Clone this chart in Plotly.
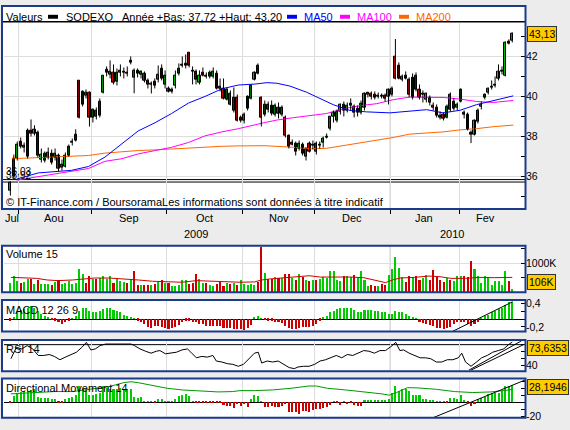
import plotly.graph_objects as go

# ---------------- data ----------------
opens = [35.30,35.98,36.90,37.72,37.45,36.97,38.31,38.12,38.20,36.85,
36.80,36.95,37.15,36.95,37.05,36.45,36.50,37.05,37.70,37.80,
40.77,39.60,40.05,40.20,38.94,39.30,39.02,40.20,41.36,41.10,
41.20,40.75,41.30,41.25,41.20,41.70,40.95,41.30,41.10,41.15,
40.80,40.60,40.75,40.85,41.40,40.60,40.40,40.35,40.55,41.15,
41.60,41.55,42.20,41.30,41.25,40.70,41.20,41.05,41.00,41.00,
41.15,40.50,40.40,39.85,40.16,39.30,39.95,38.95,38.80,39.40,
39.90,40.85,41.55,39.92,39.10,39.60,39.55,39.10,39.45,39.10,
38.93,38.03,37.70,37.62,37.40,37.60,36.97,37.65,37.55,37.65,
37.55,37.70,37.95,38.40,38.98,38.80,39.25,39.60,39.30,39.55,
39.50,39.40,39.20,39.43,40.10,40.16,40.10,40.00,40.00,40.05,
39.97,40.10,42.00,41.56,40.85,41.05,40.82,39.92,41.06,40.35,
40.10,39.85,39.70,39.55,39.43,39.05,39.10,38.95,40.08,39.75,
39.45,39.75,39.20,39.10,38.20,38.10,38.72,39.50,39.95,40.20,
40.45,40.55,40.90,41.25,41.06,42.75,42.78]
highs = [35.75,37.10,37.75,37.95,37.70,38.40,38.85,38.56,38.30,37.40,
37.25,37.45,37.35,37.40,37.15,36.85,37.20,37.60,37.90,38.36,
40.80,40.30,40.35,40.25,39.40,39.45,39.90,41.05,41.50,41.80,
41.60,41.40,41.60,41.45,41.50,42.00,41.40,41.40,41.30,41.25,
40.90,40.75,40.90,41.55,41.60,41.30,40.50,40.45,41.30,41.65,
42.00,42.10,42.20,41.50,41.35,41.30,41.45,41.20,41.30,41.45,
41.30,40.90,40.90,40.45,40.30,40.45,40.10,39.05,39.20,40.05,
40.60,41.25,41.65,40.00,39.80,39.75,39.80,39.65,39.70,39.55,
39.05,38.10,37.85,37.75,37.80,37.70,37.45,37.75,37.80,37.75,
37.75,38.00,38.15,39.00,39.30,39.35,39.65,39.75,39.70,39.90,
39.60,39.55,39.80,40.20,40.22,40.25,40.25,40.20,40.15,40.15,
40.40,40.50,42.87,41.70,41.10,41.25,40.95,41.15,41.20,40.60,
40.30,40.20,40.05,39.70,39.60,39.25,39.20,39.60,40.20,39.90,
39.70,40.40,39.30,39.20,38.30,38.85,39.40,39.75,40.15,40.45,
40.80,41.00,41.60,41.50,42.75,42.85,43.20]
lows = [35.05,35.90,36.80,37.40,37.20,36.90,38.00,38.05,36.95,36.70,
36.70,36.85,36.60,36.80,36.25,36.30,36.45,37.00,37.55,37.75,
38.90,39.50,39.90,38.50,38.70,38.85,38.95,40.15,41.00,40.90,
40.60,40.55,41.00,40.90,41.00,41.60,40.16,40.95,40.90,40.70,
40.40,40.15,40.40,40.70,40.80,40.40,40.20,40.15,40.40,41.05,
41.45,41.40,41.45,40.60,40.60,40.60,41.00,40.90,40.90,40.90,
40.35,40.25,39.85,39.80,39.55,39.20,38.75,38.70,38.65,39.30,
39.85,40.80,41.10,38.50,39.00,39.20,39.05,39.00,38.90,39.00,
37.95,37.40,37.55,37.05,37.30,37.05,36.80,37.20,37.35,37.10,
37.40,37.45,37.90,38.30,38.70,38.70,39.10,39.00,39.20,39.30,
38.95,39.00,39.10,39.30,39.95,39.85,39.85,39.90,39.90,39.75,
39.60,40.00,40.85,40.85,40.75,40.85,39.95,39.85,40.25,39.85,
39.70,39.70,39.55,39.30,38.95,38.85,38.80,38.90,39.25,39.30,
39.30,39.70,38.90,38.30,37.67,38.05,38.65,39.35,39.85,40.10,
40.35,40.45,40.80,41.10,41.00,42.60,42.70]
closes = [35.70,36.90,37.60,37.50,37.55,38.28,38.15,38.36,37.05,37.10,
37.15,37.20,36.70,37.15,36.40,36.60,37.05,37.50,37.75,38.10,
38.94,40.25,40.20,38.94,39.34,38.98,39.75,41.03,41.20,41.25,
40.70,41.20,41.20,41.20,41.15,41.80,41.30,41.15,41.25,40.80,
40.57,40.62,40.55,41.10,40.90,41.05,40.25,40.25,41.05,41.40,
41.55,41.65,41.52,41.25,40.85,41.05,41.05,41.00,41.20,41.26,
40.41,40.40,39.90,40.35,39.60,39.95,38.80,38.80,39.10,40.00,
40.55,41.20,41.15,38.95,39.60,39.35,39.15,39.55,39.15,39.45,
38.03,37.50,37.60,37.25,37.65,37.15,37.40,37.25,37.60,37.25,
37.60,37.90,38.00,38.98,39.20,39.25,39.60,39.30,39.55,39.65,
39.20,39.20,39.65,40.16,40.18,40.00,39.95,40.05,40.02,39.88,
40.36,40.40,40.90,40.90,41.00,40.90,40.08,40.95,40.33,39.95,
40.15,40.15,39.95,39.45,39.02,38.95,38.90,39.50,39.34,39.40,
39.60,40.33,39.10,38.36,38.10,38.77,39.31,39.60,40.10,40.41,
40.50,40.60,41.23,41.25,42.70,42.65,43.13]

# moving averages (x = trading-day index)
ma50_x = [1.8,8.1,17.8,22.7,27.5,32.4,37.2,42.1,46.9,51.8,56.6,61.5,66.3,71.2,74.6,77.5,81.3,86.2,91.0,93.9,98.8,103.6,110.4,116.2,121.1,125.9,130.8,135.6,140.5,146.3]
ma50_y = [35.87,36.18,36.31,36.50,36.97,37.62,38.28,38.69,39.15,39.67,40.00,40.38,40.57,40.62,40.69,40.66,40.52,40.21,39.84,39.59,39.30,39.23,39.18,39.26,39.34,39.18,39.31,39.59,39.80,40.03]
ma100_x = [1.8,8.1,12.9,17.8,22.7,27.5,32.4,37.2,42.1,46.9,51.8,56.6,61.5,66.3,74.1,77.5,82.3,87.2,92.0,96.8,101.7,106.6,111.4,116.2,121.1,125.9,130.8,135.6,140.5,146.3]
ma100_y = [35.82,35.99,36.10,36.27,36.40,36.76,36.89,37.13,37.30,37.46,37.70,38.03,38.23,38.39,38.70,38.82,38.94,39.05,39.15,39.38,39.54,39.64,39.84,39.97,39.97,39.95,39.87,39.75,39.70,39.80]
ma200_x = [0.4,8.1,17.8,22.7,27.5,32.4,37.2,42.1,46.9,51.8,56.6,61.5,66.3,74.1,82.3,87.2,92.0,96.8,101.7,106.6,111.4,116.2,121.1,125.9,130.8,135.6,140.5,146.3]
ma200_y = [36.89,36.94,37.00,37.05,37.17,37.25,37.30,37.33,37.38,37.43,37.46,37.51,37.53,37.54,37.46,37.38,37.41,37.54,37.67,37.79,37.95,38.12,38.17,38.23,38.33,38.39,38.49,38.57]

# volume in thousands
volume_k = [330,568,386,330,341,466,466,273,409,295,
273,295,261,352,409,295,318,386,273,318,
807,636,330,545,455,455,489,568,455,557,
330,455,386,352,330,432,739,261,250,250,
250,250,295,341,420,307,307,216,227,250,
432,432,295,318,636,455,307,307,261,216,
280,352,205,307,295,318,261,409,273,261,
273,261,352,1557,670,443,455,523,489,477,
636,636,477,432,636,523,409,386,432,409,
455,534,477,716,727,409,386,545,545,511,
580,477,727,432,205,239,205,205,273,239,
580,807,1227,841,523,364,545,523,545,432,
477,602,409,773,523,432,352,500,409,375,
545,545,545,534,1068,818,545,330,545,500,
250,386,375,239,750,375,106]
vol_ma_x = [0.15,3.3,7.6,10.7,13.9,18.1,21.3,24.5,28.7,32.9,37.2,41.4,45.6,49.9,54.1,58.3,62.6,66.8,71.0,73.1,75.3,79.5,83.7,86.9,90.1,94.3,98.5,102.8,107.0,109.1,111.2,113.3,117.6,121.8,125.0,128.1,132.4,136.6,140.8,146.0]
vol_ma_k = [500,489,466,409,386,409,432,477,477,455,409,364,341,330,386,364,352,330,341,409,443,489,545,557,511,523,511,489,386,318,409,477,500,545,523,466,466,500,489,500]

macd_hist = [-0.05,0.05,0.17,0.23,0.25,0.29,0.33,0.29,0.21,0.13,
0.07,0.03,-0.03,-0.05,-0.08,-0.12,-0.08,-0.05,0.005,0.07,
0.21,0.27,0.29,0.21,0.18,0.17,0.21,0.25,0.29,0.27,
0.23,0.21,0.17,0.10,0.08,0.05,0.02,-0.05,-0.08,-0.13,
-0.21,-0.22,-0.18,-0.18,-0.21,-0.23,-0.25,-0.23,-0.21,-0.15,
-0.08,-0.04,-0.05,-0.07,-0.08,-0.12,-0.13,-0.17,-0.17,-0.18,
-0.18,-0.18,-0.22,-0.23,-0.22,-0.25,-0.25,-0.25,-0.27,-0.23,
-0.15,0.03,0.08,0.005,-0.03,-0.04,-0.05,-0.08,-0.07,-0.10,
-0.17,-0.23,-0.25,-0.25,-0.23,-0.21,-0.21,-0.20,-0.18,-0.12,
-0.04,0.05,0.08,0.17,0.21,0.25,0.29,0.28,0.27,0.27,
0.22,0.18,0.18,0.22,0.23,0.22,0.21,0.20,0.18,0.17,
0.13,0.13,0.21,0.19,0.18,0.13,0.07,0.03,0.005,-0.07,
-0.10,-0.12,-0.15,-0.18,-0.22,-0.23,-0.25,-0.22,-0.20,-0.13,
-0.08,-0.07,-0.08,-0.12,-0.17,-0.13,-0.08,0.02,0.07,0.10,
0.17,0.21,0.25,0.29,0.35,0.42,0.43]
macd_trend_x = [128.7, 146.1]
macd_trend_y = [-0.31, 0.44]

rsi_x = [0.15,1.74,3.3,4.9,6.5,8.1,9.7,11.3,12.8,14.4,16.0,17.6,19.2,20.8,22.1,23.4,24.7,26.1,27.7,29.8,31.9,33.5,35.1,36.1,37.7,39.3,40.9,42.5,43.5,45.1,46.7,48.3,49.9,51.5,52.5,54.1,55.7,57.3,58.9,59.9,61.5,63.1,64.7,66.3,67.8,69.4,71.0,72.1,73.1,74.7,76.3,77.9,79.5,81.1,82.6,83.7,85.3,86.9,88.5,90.1,91.7,93.2,94.8,96.4,98.0,99.6,101.2,102.8,104.3,105.9,107.5,109.1,110.7,112.1,113.3,114.4,116.0,117.6,119.2,120.8,122.3,123.9,125.5,127.1,128.7,130.3,131.3,132.4,134.0,135.6,137.1,138.7,140.3,141.9,143.5,145.1,146.0]
rsi_y = [49.5,66.1,63.8,68.6,63.8,54.3,54.3,55.7,52.9,48.1,51.9,55.7,59.0,66.1,73.3,62.3,63.8,68.6,70.9,70.9,70.9,70.9,70.9,68.6,63.8,60.5,57.6,60.5,61.4,56.7,57.6,59.0,62.3,63.8,59.0,50.9,52.9,51.9,54.3,46.2,44.8,42.4,41.4,38.6,41.4,49.5,57.6,59.0,43.3,46.2,44.8,46.2,41.4,36.7,35.2,37.6,38.6,38.6,41.4,46.2,48.1,50.9,54.3,50.9,55.7,54.3,57.6,61.4,60.5,57.6,61.4,61.4,67.1,73.3,61.4,62.3,57.6,54.3,50.9,50.9,49.5,44.8,44.8,48.1,48.1,50.9,57.6,44.8,38.6,44.8,50.9,54.3,59.0,61.4,63.8,70.9,73.6353]
rsi_level = 70
rsi_trend1_x = [133.4, 148.6]
rsi_trend1_y = [33.0, 75.3]
rsi_trend2_x = [134.0, 149.3]
rsi_trend2_y = [33.0, 70.0]

dm_hist = [-1.9,8.6,12.4,14.3,15.2,15.7,17.1,18.1,7.6,5.7,
5.7,5.7,4.8,3.8,-1.0,-1.0,3.8,5.7,7.6,10.5,
22.9,18.1,19.0,9.5,9.5,11.0,12.4,23.8,20.5,19.0,
18.1,19.0,20.5,19.0,18.1,19.0,6.7,5.7,7.6,1.0,
0.5,1.0,-1.0,3.8,3.8,1.0,1.0,1.0,4.8,8.6,
9.5,11.0,8.6,1.0,-1.9,-1.9,-1.0,-1.9,-1.0,-0.5,
-1.4,-1.9,-3.8,-5.7,-5.7,-9.0,-3.3,-5.7,-3.3,-8.1,
4.8,9.5,8.6,1.0,-8.1,-8.1,-5.7,-8.1,-6.7,-5.7,
-3.3,-14.3,-15.2,-15.2,-17.6,-13.3,-13.3,-14.3,-11.4,-10.5,
-10.5,-8.6,-6.7,-4.8,0.5,-1.9,-3.8,0.5,-3.3,-1.9,
-3.8,-5.7,-5.7,1.4,1.4,1.4,1.4,1.4,1.4,1.4,
3.8,12.4,22.9,15.7,19.0,18.1,15.7,9.5,9.5,9.5,
4.8,4.8,2.9,2.9,0.5,0.5,1.0,-1.9,6.2,6.2,
4.8,9.5,2.9,-1.9,-5.7,-3.3,3.8,6.2,7.6,11.0,
12.4,13.3,13.3,15.7,22.9,23.8,25.2]
dm_line_x = [0.15,7.6,12.8,18.1,23.4,28.7,32.9,35.1,37.2,39.3,42.5,45.6,49.9,55.2,60.4,64.7,66.8,71.0,76.3,81.6,86.9,89.0,92.2,97.5,102.8,108.0,110.2,112.3,115.5,118.6,123.9,129.2,134.5,139.8,145.1,146.0]
dm_line_y = [12.4,14.3,15.7,15.7,19.0,22.9,28.6,30.0,28.6,26.7,22.9,20.5,18.1,17.1,15.2,15.7,17.1,17.1,18.1,20.5,23.8,23.8,20.5,18.1,15.7,12.4,10.5,14.3,21.4,21.0,19.0,15.7,14.3,15.2,18.1,19.0]
dm_trend_x = [122.9, 149.7]
dm_trend_y = [-22.4, 32.4]
dm_last = "28,1946"

months = ["Jul", "Aou", "Sep", "Oct", "Nov", "Dec", "Jan", "Fev"]
month_label_x = [0.6, 12.7, 34.5, 56.6, 78.1, 99.4, 120.3, 138.1]
month_bounds = [2.5, 23.5, 45.5, 67.5, 88.5, 110.5, 130.5]
years = ["2009", "2010"]
year_label_x = [54.0, 128.5]
year_bound = 110.5

# ---------------- styling / layout ----------------
W, H = 570, 430
FONT = "Liberation Sans, Arial, sans-serif"
GREEN = "#00cc00"
RED = "#cc0000"
NAVY = "#1b3a8a"
GRID = "#dddddd"
YEARLINE = "#a0a0a0"
BG = "#ececec"


def fx(p):
    return p / W


def fy(p):
    return 1 - p / H


n = len(closes)
idx = list(range(n))
XR = [-1.86, 149.7]
XDOM = [fx(4), fx(525)]

fig = go.Figure()

# MAs first (drawn under the candles)
for xs, ys, col in [(ma200_x, ma200_y, "#ff6600"), (ma100_x, ma100_y, "#ff00ff"), (ma50_x, ma50_y, "#0000ff")]:
    fig.add_trace(go.Scatter(x=xs, y=ys, mode="lines", line=dict(color=col, width=1),
                             xaxis="x", yaxis="y", showlegend=False, hoverinfo="skip"))

# candle wicks
wick_x, wick_y = [], []
for i in idx:
    wick_x += [i, i, None]
    wick_y += [lows[i], highs[i], None]
fig.add_trace(go.Scatter(x=wick_x, y=wick_y, mode="lines", line=dict(color="black", width=1),
                         xaxis="x", yaxis="y", showlegend=False, hoverinfo="skip"))
# candle bodies
body_base = [min(o, c) for o, c in zip(opens, closes)]
body_h = [max(abs(c - o), 0.03) for o, c in zip(opens, closes)]
body_col = [GREEN if c >= o else RED for o, c in zip(opens, closes)]
fig.add_trace(go.Bar(x=idx, y=body_h, base=body_base, width=0.62,
                     marker=dict(color=body_col, line=dict(color="black", width=1)),
                     xaxis="x", yaxis="y", showlegend=False, hoverinfo="skip"))

vol_colors = [GREEN if (i == 0 or closes[i] >= closes[i - 1]) else RED for i in idx]
fig.add_trace(go.Bar(x=idx, y=volume_k, width=0.6, marker=dict(color=vol_colors, line=dict(width=0)),
                     xaxis="x2", yaxis="y2", showlegend=False, hoverinfo="skip"))
fig.add_trace(go.Scatter(x=vol_ma_x, y=vol_ma_k, mode="lines", line=dict(color=RED, width=1),
                         xaxis="x2", yaxis="y2", showlegend=False, hoverinfo="skip"))

fig.add_trace(go.Bar(x=idx, y=macd_hist, width=0.6,
                     marker=dict(color=[GREEN if v >= 0 else RED for v in macd_hist], line=dict(width=0)),
                     xaxis="x3", yaxis="y3", showlegend=False, hoverinfo="skip"))
fig.add_trace(go.Scatter(x=macd_trend_x, y=macd_trend_y, mode="lines", line=dict(color="black", width=1),
                         xaxis="x3", yaxis="y3", showlegend=False, hoverinfo="skip"))

fig.add_trace(go.Scatter(x=rsi_x, y=rsi_y, mode="lines", line=dict(color="black", width=1),
                         xaxis="x4", yaxis="y4", showlegend=False, hoverinfo="skip"))
for tx, ty in [(rsi_trend1_x, rsi_trend1_y), (rsi_trend2_x, rsi_trend2_y)]:
    fig.add_trace(go.Scatter(x=tx, y=ty, mode="lines", line=dict(color="black", width=1),
                             xaxis="x4", yaxis="y4", showlegend=False, hoverinfo="skip"))

fig.add_trace(go.Bar(x=idx, y=dm_hist, width=0.6,
                     marker=dict(color=[GREEN if v >= 0 else RED for v in dm_hist], line=dict(width=0)),
                     xaxis="x5", yaxis="y5", showlegend=False, hoverinfo="skip"))
fig.add_trace(go.Scatter(x=dm_line_x, y=dm_line_y, mode="lines", line=dict(color="#009900", width=1),
                         xaxis="x5", yaxis="y5", showlegend=False, hoverinfo="skip"))
fig.add_trace(go.Scatter(x=dm_trend_x, y=dm_trend_y, mode="lines", line=dict(color="black", width=1),
                         xaxis="x5", yaxis="y5", showlegend=False, hoverinfo="skip"))

# panels: (top, bottom) in px of plotting area and value range
P_MAIN = (20, 209, [34.398, 43.686])
P_VOL = (246.7, 294, [-17, 1603])
P_MACD = (302, 334, [-0.3175, 0.4825])
P_RSI = (342.7, 374.3, [31.43, 76.57])
P_DM = (381.7, 421.7, [-22.43, 34.71])

LABEL_SIZE = 10.5


def xax(anchor, ticks):
    return dict(domain=XDOM, range=XR, anchor=anchor, tickvals=month_bounds, ticks=ticks,
                ticklen=4, tickcolor="black", showticklabels=False, showgrid=True,
                gridcolor=GRID, gridwidth=1, zeroline=False, showline=False, fixedrange=True)


def yax(anchor, panel, tickvals, ticktext, minor_vals, grid=False, zeroline=False):
    top, bottom, rng = panel
    return dict(domain=[fy(bottom), fy(top)], range=rng, anchor=anchor, side="right",
                tickvals=tickvals, ticktext=ticktext, ticks="inside", ticklen=4,
                tickcolor="black", showgrid=grid, gridcolor=GRID, gridwidth=1,
                zeroline=zeroline, zerolinecolor="black", zerolinewidth=1, showline=False,
                minor=dict(tickvals=minor_vals, ticks="inside", ticklen=4, tickcolor="black", showgrid=False),
                tickfont=dict(size=LABEL_SIZE, color="black", family=FONT), fixedrange=True)


xa1 = xax("y", "outside")
xa1["rangeslider"] = dict(visible=False)

shapes = []
boxes = [(3, 209.5), (246.7, 294), (302, 334), (342.7, 374.3), (381.7, 421.7)]
for t, b in boxes:
    shapes.append(dict(type="rect", xref="paper", yref="paper", x0=fx(2), x1=fx(525.5), y0=fy(b), y1=fy(t),
                       fillcolor="white", line=dict(width=0), layer="below"))
# year boundary (darker gridline)
for xr, yr in [("x", "y"), ("x2", "y2"), ("x3", "y3"), ("x4", "y4"), ("x5", "y5")]:
    shapes.append(dict(type="line", xref=xr, yref=yr + " domain", x0=year_bound, x1=year_bound, y0=0, y1=1,
                       line=dict(color=YEARLINE, width=1), layer="below"))
# double line near the year low
for yy in (179.5, 182):
    shapes.append(dict(type="line", xref="paper", yref="paper", x0=fx(2), x1=fx(525), y0=fy(yy), y1=fy(yy),
                       line=dict(color="black", width=1), layer="below"))
# RSI reference level
shapes.append(dict(type="line", xref="x4 domain", yref="y4", x0=0, x1=1, y0=rsi_level, y1=rsi_level,
                   line=dict(color="black", width=1), layer="below"))
# header separator
shapes.append(dict(type="line", xref="paper", yref="paper", x0=fx(2), x1=fx(525), y0=fy(19), y1=fy(19),
                   line=dict(color="black", width=1.5), layer="above"))
# legend swatches
for x0, col in [(48, "black"), (287, "#0000ff"), (340, "#ff00ff"), (399, "#ff6600")]:
    shapes.append(dict(type="rect", xref="paper", yref="paper", x0=fx(x0), x1=fx(x0 + 10), y0=fy(16), y1=fy(12),
                       fillcolor=col, line=dict(width=0), layer="above"))
# panel borders
for t, b in boxes:
    shapes.append(dict(type="rect", xref="paper", yref="paper", x0=fx(2), x1=fx(525.5), y0=fy(b), y1=fy(t),
                       line=dict(color=NAVY, width=2), layer="above"))

ann = []


def text(x, y, s, color="black", size=11, xanchor="left", xref="paper"):
    ann.append(dict(x=x, y=y, xref=xref, yref="paper", text=s, showarrow=False, xanchor=xanchor,
                    yanchor="middle", font=dict(family=FONT, size=size, color=color)))


text(fx(3.5), fy(14), "Valeurs")
text(fx(64), fy(14), "SODEXO")
text(fx(120), fy(14), "Année +Bas: 37,72 +Haut: 43,20")
text(fx(302), fy(14), "MA50", color="#0000ff")
text(fx(355), fy(14), "MA100", color="#ff00ff")
text(fx(414), fy(14), "MA200", color="#ff6600")
text(fx(4), fy(202.5), "© IT-Finance.com / BoursoramaLes informations sont données à titre indicatif")
text(fx(4), fy(171.5), "36,03", size=10)
text(fx(4), fy(175.5), "35,92", size=10)
for m, mx in zip(months, month_label_x):
    text(mx, fy(219), m, xanchor="center", xref="x")
for yv, yx in zip(years, year_label_x):
    text(yx, fy(235), yv, xanchor="center", xref="x")
text(fx(4), fy(255), "Volume 15")
text(fx(4), fy(312), "MACD 12 26 9")
text(fx(4), fy(351.5), "RSI 14")
text(fx(4), fy(391.5), "Directional Movement 14")


def valbox(y, s, yref="paper"):
    ann.append(dict(x=fx(526.5), y=y, xref="paper", yref=yref, text=s, showarrow=False, xanchor="left",
                    yanchor="middle", bgcolor="#ffcc00", bordercolor="#333333", borderwidth=1, borderpad=1,
                    font=dict(family=FONT, size=LABEL_SIZE, color="black")))


valbox(closes[-1], f"{closes[-1]:.2f}".replace(".", ","), yref="y")
valbox(fy(284), f"{volume_k[-1]}K")
valbox(fy(350.7), f"{rsi_y[-1]:.4f}".replace(".", ","))
valbox(fy(390), dm_last)

fig.update_layout(
    width=W, height=H, margin=dict(l=0, r=0, t=0, b=0),
    paper_bgcolor=BG, plot_bgcolor="white", showlegend=False,
    font=dict(family=FONT, size=11, color="black"),
    xaxis=xa1, xaxis2=xax("y2", ""), xaxis3=xax("y3", ""), xaxis4=xax("y4", ""), xaxis5=xax("y5", ""),
    yaxis=yax("x", P_MAIN, [36, 38, 40, 42], ["36", "38", "40", "42"], [35, 37, 39, 41, 43], grid=True),
    yaxis2=yax("x2", P_VOL, [1000], ["1000K"], [0, 500, 1500], grid=True),
    yaxis3=yax("x3", P_MACD, [-0.2, 0.4], ["-0,2", "0,4"], [0, 0.2], zeroline=True),
    yaxis4=yax("x4", P_RSI, [40], ["40"], [50, 60, 70]),
    yaxis5=yax("x5", P_DM, [-20], ["-20"], [-10, 0, 10, 20, 30], zeroline=True),
    shapes=shapes, annotations=ann, bargap=0,
)

fig.write_html("out.html", include_plotlyjs=True, config={"displayModeBar": False},
               post_script="document.body.style.margin='0';document.body.style.padding='0';")
